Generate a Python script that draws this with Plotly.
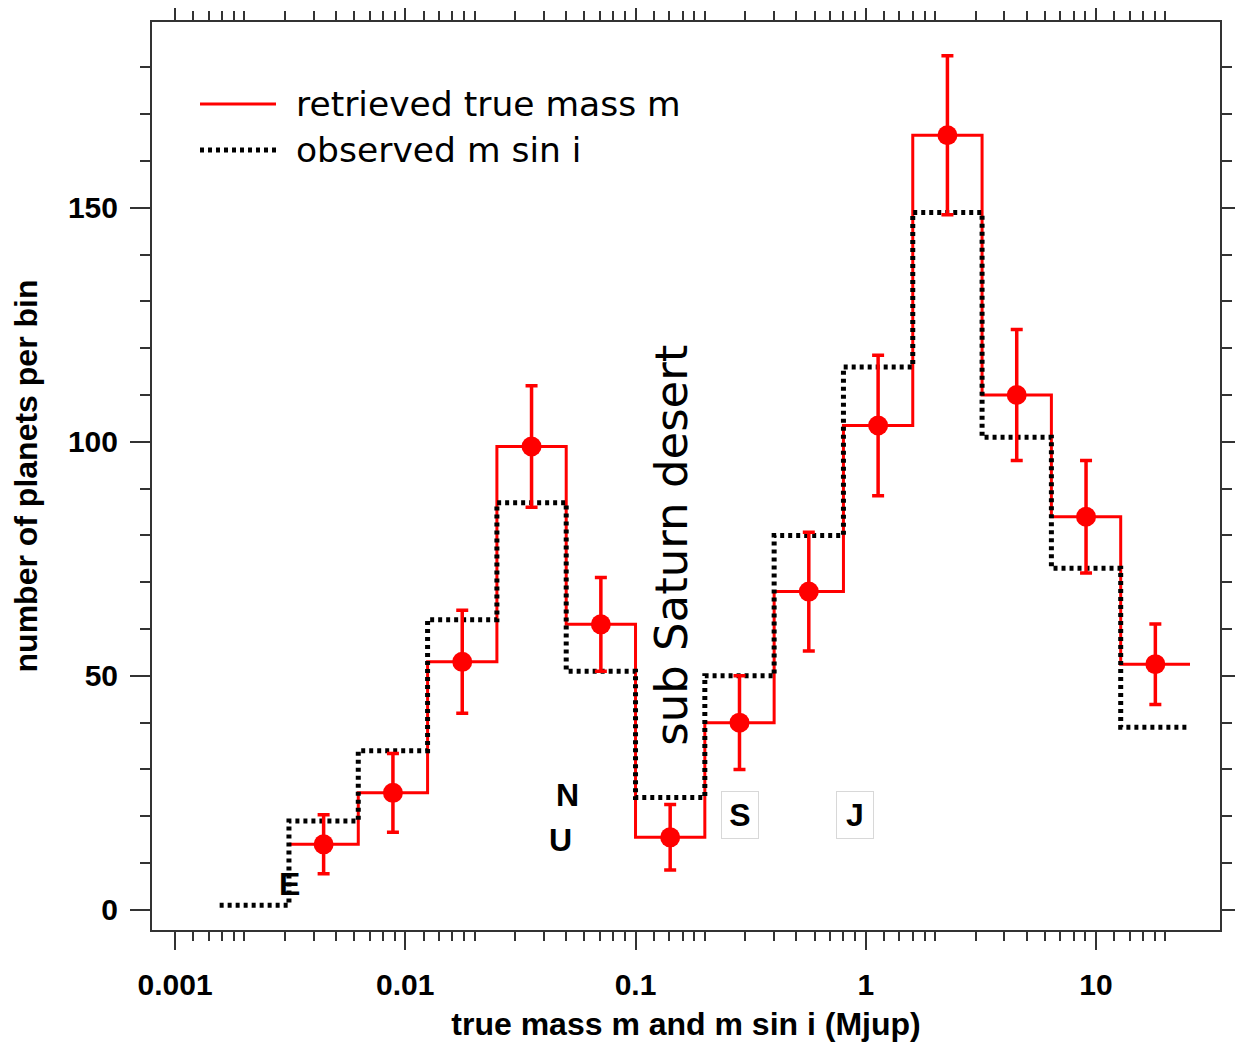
import numpy as np
import plotly.graph_objects as go

# ---- data ----
obs_edges = [0.0015625, 0.003125, 0.00625, 0.0125, 0.025, 0.05, 0.1, 0.2, 0.4,
             0.8, 1.6, 3.2, 6.4, 12.8, 25.6]
obs_counts = [1, 19, 34, 62, 87, 51, 24, 50, 80, 116, 149, 101, 73, 39]

true_edges = [0.003125, 0.00625, 0.0125, 0.025, 0.05, 0.1, 0.2, 0.4,
              0.8, 1.6, 3.2, 6.4, 12.8, 25.6]
true_counts = [14, 25, 53, 99, 61, 15.5, 40, 68, 103.5, 165.5, 110, 84, 52.5]
true_err = [6.3, 8.4, 11, 13, 10, 7, 10, 12.7, 15, 17, 14, 12, 8.6]

xtick_vals = [0.001, 0.01, 0.1, 1, 10]
xtick_text = ["0.001", "0.01", "0.1", "1", "10"]
ytick_vals = [0, 50, 100, 150]

planet_labels = ["E", "N", "U"]
planet_x = [0.00313, 0.0509, 0.047]
planet_y = [5.6, 24.6, 15]
boxed_labels = ["S", "J"]
boxed_x = [0.284, 0.897]
boxed_y = [20.3, 20.3]

# ---- derived ----
te = np.array(true_edges)
centers = np.sqrt(te[:-1] * te[1:])

RED = "#ff0000"
AX = "#333333"
BOLD = "Liberation Sans, Arial, sans-serif"
TICKFONT = dict(family=BOLD, size=30, color="black", weight="bold")
TITLEFONT = dict(family=BOLD, size=32, color="black", weight="bold")
TXTFONT = dict(family="DejaVu Sans, sans-serif", color="black")

fig = go.Figure()

fig.add_trace(go.Scatter(
    x=true_edges, y=true_counts + [true_counts[-1]],
    mode="lines", line=dict(color=RED, width=3, shape="hv"),
    showlegend=False, hoverinfo="skip"))

fig.add_trace(go.Scatter(
    x=obs_edges, y=obs_counts + [obs_counts[-1]],
    mode="lines", line=dict(color="black", width=5, shape="hv", dash="4px,4px"),
    showlegend=False, hoverinfo="skip"))

fig.add_trace(go.Scatter(
    x=centers, y=true_counts, mode="markers",
    marker=dict(color=RED, size=20),
    error_y=dict(type="data", array=true_err, color=RED, thickness=3.5, width=6),
    showlegend=False))

# minor ticks
minor_x = []
for d in [0.001, 0.01, 0.1, 1, 10]:
    for m in [1.2, 1.4, 1.6, 1.8, 2, 3, 4, 5, 6, 7, 8, 9]:
        v = d * m
        if v <= 20.0001:
            minor_x.append(v)
minor_y = [v for v in range(10, 190, 10) if v % 50 != 0]

fig.update_xaxes(
    type="log", range=[-3.1, 1.5385],
    tickvals=xtick_vals, ticktext=xtick_text,
    ticks="outside", ticklen=18, tickwidth=2, tickcolor=AX,
    showline=True, linecolor=AX, linewidth=2, mirror="allticks",
    showgrid=False, zeroline=False, tickfont=TICKFONT,
    minor=dict(tickvals=minor_x, ticklen=9, tickwidth=2, tickcolor=AX, ticks="outside", showgrid=False),
    title=dict(text="true mass m and m sin i (Mjup)", font=TITLEFONT, standoff=13),
    ticklabelstandoff=9,
)
fig.update_yaxes(
    range=[-4.3, 189.7],
    tickvals=ytick_vals,
    ticks="outside", ticklen=20, tickwidth=2, tickcolor=AX,
    showline=True, linecolor=AX, linewidth=2, mirror="allticks",
    showgrid=False, zeroline=False, tickfont=TICKFONT,
    minor=dict(tickvals=minor_y, ticklen=10, tickwidth=2, tickcolor=AX, ticks="outside", showgrid=False),
    title=dict(text="number of planets per bin", font=TITLEFONT, standoff=24),
    ticklabelstandoff=6,
)

# planet letters
for t, x, y in zip(planet_labels, planet_x, planet_y):
    fig.add_annotation(x=np.log10(x), y=y, text=t, showarrow=False,
                       font=dict(family=BOLD, size=32, color="black", weight="bold"))
for t, x, y in zip(boxed_labels, boxed_x, boxed_y):
    fig.add_annotation(x=np.log10(x), y=y, text=t, showarrow=False,
                       font=dict(family=BOLD, size=32, color="black", weight="bold"),
                       bgcolor="white", bordercolor="#d8d8d8", borderwidth=1,
                       borderpad=4, width=28, height=38)

fig.add_annotation(x=np.log10(0.144), y=78, text="sub Saturn desert", showarrow=False,
                   textangle=-90, font=dict(TXTFONT, size=45))

# page has an 8px body margin: figure placed at (8, 8)
OFF = 8
W, H = 1243 - OFF, 1044 - OFF
L, R, T, B = 152 - OFF, 23, 22 - OFF, 114
pw, ph = W - L - R, H - T - B
def px(x): return (x - OFF - L) / pw
def py(y): return (H - B - (y - OFF)) / ph

fig.add_shape(type="line", xref="paper", yref="paper",
              x0=px(200), x1=px(276), y0=py(104), y1=py(104),
              line=dict(color=RED, width=3))
fig.add_shape(type="line", xref="paper", yref="paper",
              x0=px(200), x1=px(276), y0=py(150), y1=py(150),
              line=dict(color="black", width=5, dash="4px,4px"))
fig.add_annotation(xref="paper", yref="paper", x=px(294), y=py(104),
                   xanchor="left", yanchor="middle", showarrow=False,
                   text="retrieved true mass m", font=dict(TXTFONT, size=34.5))
fig.add_annotation(xref="paper", yref="paper", x=px(294), y=py(150),
                   xanchor="left", yanchor="middle", showarrow=False,
                   text="observed m sin i", font=dict(TXTFONT, size=34.5))

fig.update_layout(
    width=W, height=H,
    margin=dict(l=L, r=R, t=T, b=B, autoexpand=False),
    plot_bgcolor="white", paper_bgcolor="white",
    showlegend=False,
)

fig.write_html("out.html")
